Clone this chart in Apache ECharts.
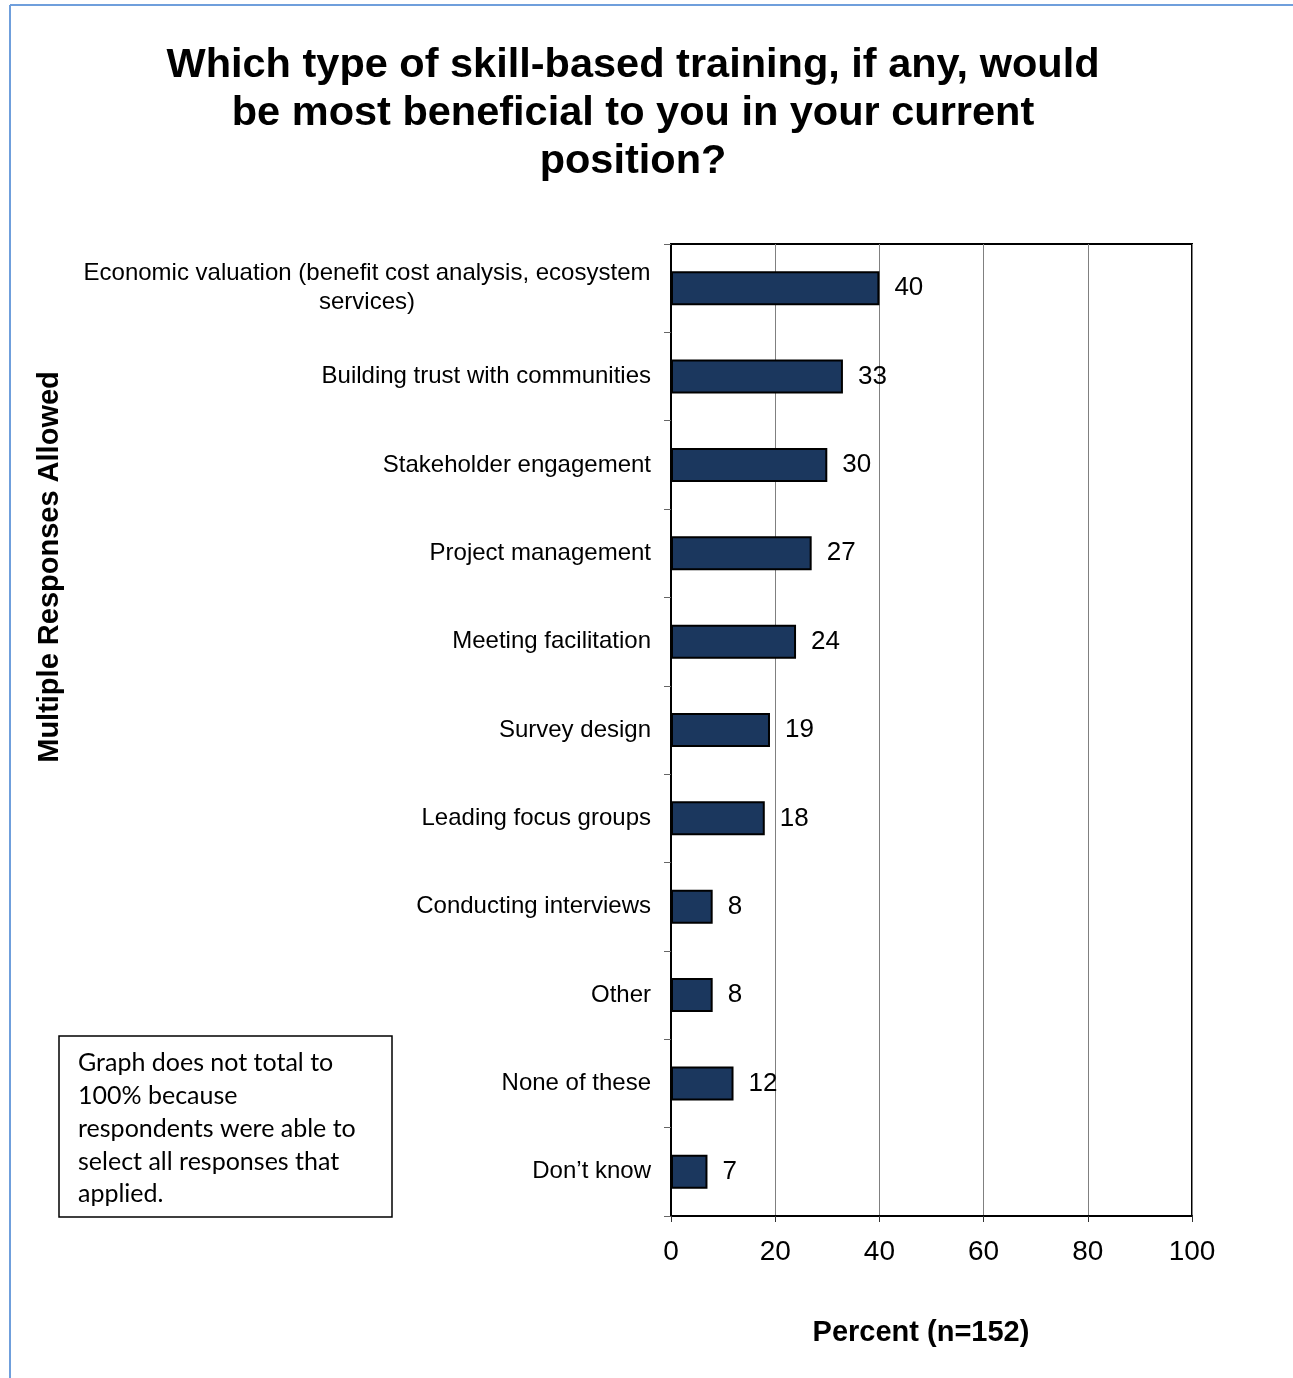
<!DOCTYPE html>
<html>
<head>
<meta charset="utf-8">
<script src="https://cdn.jsdelivr.net/npm/echarts@6/dist/echarts.min.js"></script>
<style>
  html, body { margin: 0; padding: 0; background: #fff; }
  #chart { width: 1293px; height: 1378px; }
</style>
</head>
<body>
<div id="chart"></div>
<script>
const titleText = 'Which type of skill-based training, if any, would\nbe most beneficial to you in your current\nposition?';
const categories = [
  'Economic valuation (benefit cost analysis, ecosystem\nservices)',
  'Building trust with communities',
  'Stakeholder engagement',
  'Project management',
  'Meeting facilitation',
  'Survey design',
  'Leading focus groups',
  'Conducting interviews',
  'Other',
  'None of these',
  'Don\u2019t know'
];
const percents = [40, 33, 30, 27, 24, 19, 18, 8, 8, 12, 7];
const xTicks = [0, 20, 40, 60, 80, 100];
const xAxisTitle = 'Percent (n=152)';
const yAxisTitle = 'Multiple Responses Allowed';
const noteText = 'Graph does not total to\n100% because\nrespondents were able to\nselect all responses that\napplied.';

const FONT = '"Liberation Sans", Arial, sans-serif';
const chart = echarts.init(document.getElementById('chart'), null, { renderer: 'canvas' });

const option = {
  backgroundColor: '#ffffff',
  animation: false,
  title: {
    text: titleText,
    left: 628,
    top: 37,
    textAlign: 'center',
    textStyle: { fontFamily: FONT, fontSize: 41.5, fontWeight: 'bold', color: '#000', lineHeight: 48 }
  },
  grid: {
    left: 671, right: 101, top: 244, bottom: 162,
    show: true, borderColor: '#000', borderWidth: 2, backgroundColor: 'transparent'
  },
  xAxis: {
    type: 'value',
    min: xTicks[0],
    max: xTicks[xTicks.length - 1],
    interval: xTicks[1] - xTicks[0],
    axisLine: { show: true, lineStyle: { color: '#000', width: 2 } },
    axisTick: { show: true, inside: false, length: 6, lineStyle: { color: '#333', width: 1 } },
    axisLabel: { fontFamily: FONT, fontSize: 28, color: '#000', margin: 22 },
    splitLine: { show: true, lineStyle: { color: '#808080', width: 1 } }
  },
  yAxis: {
    type: 'category',
    data: categories,
    inverse: true,
    axisLine: { show: true, lineStyle: { color: '#000', width: 2 } },
    axisTick: { show: true, inside: false, length: 7, lineStyle: { color: '#666', width: 1 } },
    axisLabel: {
      fontFamily: FONT, fontSize: 24, color: '#000', margin: 20, lineHeight: 29, align: 'right',
      formatter: function (v) {
        if (v.indexOf('\n') < 0) return v;
        return v.split('\n').map(function (s) { return '{c|' + s + '}'; }).join('\n');
      },
      rich: {
        c: { fontFamily: FONT, fontSize: 24, color: '#000', lineHeight: 29, width: 568, align: 'center' }
      }
    },
    splitLine: { show: false }
  },
  series: [{
    type: 'bar',
    data: percents,
    barWidth: 34,
    itemStyle: { color: '#1b375e', borderColor: '#000', borderWidth: 2 },
    label: {
      show: true, position: 'right', distance: 15,
      fontFamily: FONT, fontSize: 26, color: '#000'
    }
  }],
  graphic: [
    { type: 'line', shape: { x1: 10, y1: 5, x2: 1293, y2: 5 }, style: { stroke: '#6f9fdc', lineWidth: 2 } },
    { type: 'line', shape: { x1: 10, y1: 5, x2: 10, y2: 1378 }, style: { stroke: '#6f9fdc', lineWidth: 2 } },
    {
      type: 'text', x: 50, y: 567, rotation: Math.PI / 2,
      style: { text: yAxisTitle, fontFamily: FONT, fontSize: 29, fontWeight: 'bold', fill: '#000', align: 'center', verticalAlign: 'middle' }
    },
    {
      type: 'text', x: 921, y: 1333,
      style: { text: xAxisTitle, fontFamily: FONT, fontSize: 29, fontWeight: 'bold', fill: '#000', align: 'center', verticalAlign: 'middle' }
    },
    { type: 'rect', shape: { x: 59, y: 1036, width: 333, height: 181 }, style: { fill: '#fff', stroke: '#000', lineWidth: 1.5 } },
    {
      type: 'text', x: 78, y: 1047,
      style: { text: noteText, fontFamily: 'Lato, "Open Sans", sans-serif', fontSize: 25, lineHeight: 32.7, fill: '#000', align: 'left', verticalAlign: 'top' }
    }
  ]
};
chart.setOption(option);
</script>
</body>
</html>
